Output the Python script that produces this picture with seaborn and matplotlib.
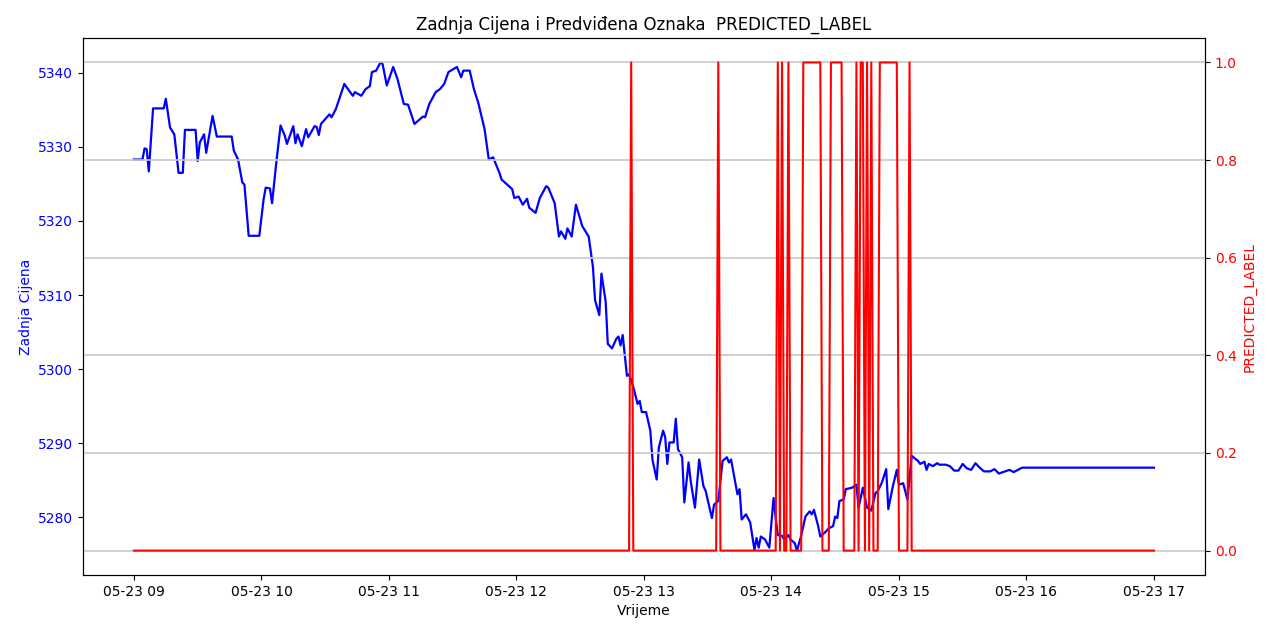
import matplotlib
matplotlib.use("Agg")
import matplotlib.pyplot as plt
import matplotlib.dates as mdates
import pandas as pd
import seaborn as sns

# ---- data ----
DAY = "2024-05-23"

price_minutes = [0, 4, 5, 6, 7, 9, 14, 15, 17, 19, 21, 23, 24, 29, 30, 31, 33, 34, 37, 39,
                 46, 47, 49, 51, 52, 54, 59, 61, 62, 64, 65, 67, 69, 71, 72, 75, 76, 77, 79, 81,
                 82, 85, 86, 87, 88, 92, 93, 95, 99, 103, 104, 107, 109, 111, 112, 114, 116, 117, 119, 122,
                 124, 127, 129, 132, 136, 137, 139, 142, 144, 146, 148, 152, 154, 155, 158, 160, 162, 165, 167, 169,
                 172, 173, 178, 179, 181, 183, 185, 186, 189, 191, 194, 195, 198, 200, 201, 203, 204, 206, 208, 211,
                 214, 216, 217, 219, 220, 222, 223, 225, 227, 228, 229, 230, 232, 233, 235, 237, 238, 239, 241, 243,
                 244, 246, 247, 249, 250, 251, 252, 254, 255, 256, 258, 259, 261, 262, 264, 266, 268, 269, 272, 273,
                 275, 277, 279, 280, 281, 283, 284, 285, 286, 288, 290, 292, 293, 294, 295, 297, 299, 301, 302, 303,
                 305, 306, 308, 309, 311, 312, 314, 316, 318, 319, 320, 322, 323, 325, 327, 329, 330, 331, 332, 334,
                 335, 338, 340, 341, 342, 343, 345, 347, 349, 350, 352, 354, 355, 357, 359, 360, 362, 364, 366, 369,
                 370, 372, 373, 374, 376, 378, 379, 382, 384, 386, 388, 390, 392, 394, 396, 398, 400, 403, 405, 407,
                 410, 412, 414, 416, 418, 480]

price_values = [5328.3, 5328.3, 5329.8, 5329.7, 5326.7, 5335.2, 5335.2, 5336.5, 5332.6, 5331.7,
                5326.5, 5326.5, 5332.3, 5332.3, 5328.1, 5330.6, 5331.7, 5329.2, 5334.2, 5331.4,
                5331.4, 5329.5, 5328.3, 5325.2, 5324.9, 5318.0, 5318.0, 5322.9, 5324.5, 5324.4,
                5322.4, 5327.9, 5332.9, 5331.5, 5330.4, 5332.8, 5330.5, 5331.7, 5330.1, 5332.4,
                5331.3, 5332.8, 5332.7, 5331.6, 5333.1, 5334.4, 5334.0, 5335.1, 5338.5, 5336.9,
                5337.4, 5336.9, 5337.8, 5338.2, 5340.1, 5340.3, 5341.4, 5341.2, 5338.3, 5340.8,
                5339.2, 5335.8, 5335.7, 5333.1, 5334.1, 5334.0, 5335.8, 5337.4, 5337.8, 5338.5,
                5340.1, 5340.8, 5339.4, 5340.3, 5340.3, 5337.8, 5336.0, 5332.4, 5328.3, 5328.6,
                5326.5, 5325.6, 5324.3, 5323.1, 5323.3, 5322.2, 5323.0, 5321.8, 5321.1, 5323.1,
                5324.7, 5324.5, 5322.4, 5317.9, 5318.6, 5317.6, 5319.0, 5317.9, 5322.2, 5319.3,
                5317.9, 5313.8, 5309.3, 5307.3, 5312.9, 5309.1, 5303.4, 5302.8, 5304.1, 5304.4,
                5303.2, 5304.6, 5299.1, 5299.3, 5297.6, 5295.3, 5295.7, 5294.2, 5294.2, 5291.7,
                5287.8, 5285.1, 5289.4, 5291.7, 5290.8, 5287.2, 5290.1, 5290.1, 5293.3, 5289.2,
                5288.1, 5282.0, 5287.4, 5284.9, 5281.3, 5287.8, 5284.2, 5283.6, 5279.9, 5281.7,
                5282.2, 5287.6, 5288.1, 5287.4, 5287.8, 5284.7, 5283.1, 5283.8, 5279.7, 5280.4,
                5279.3, 5275.6, 5277.2, 5275.9, 5277.4, 5277.0, 5275.9, 5282.6, 5279.9, 5277.6,
                5277.5, 5277.0, 5277.6, 5277.0, 5276.5, 5275.5, 5277.5, 5280.1, 5280.8, 5280.4,
                5281.0, 5278.8, 5277.4, 5277.9, 5278.5, 5278.8, 5280.1, 5279.9, 5282.2, 5282.4,
                5283.8, 5284.0, 5284.4, 5281.3, 5282.6, 5284.0, 5281.3, 5280.9, 5283.3, 5283.5,
                5284.7, 5286.5, 5281.1, 5284.0, 5286.4, 5284.4, 5284.6, 5282.4, 5288.3, 5287.6,
                5287.2, 5287.5, 5286.4, 5287.2, 5286.9, 5287.3, 5287.1, 5287.1, 5286.9, 5286.3,
                5286.3, 5287.2, 5286.6, 5286.4, 5287.3, 5286.7, 5286.2, 5286.2, 5286.5, 5285.9,
                5286.2, 5286.4, 5286.1, 5286.4, 5286.7, 5286.7]

label_times = ["09:00", "12:53", "12:54", "12:55", "13:34", "13:35", "13:36",
               "14:02", "14:03", "14:04", "14:05", "14:06", "14:07", "14:08", "14:09",
               "14:14", "14:15", "14:23", "14:24", "14:27", "14:28", "14:33", "14:34",
               "14:39", "14:40", "14:41", "14:42", "14:43", "14:44", "14:45", "14:46",
               "14:47", "14:48", "14:50", "14:51", "14:59", "15:00",
               "15:04", "15:05", "15:06", "17:00"]
label_values = [0, 0, 1, 0, 0, 1, 0,
                0, 1, 0, 1, 0, 0, 1, 0,
                0, 1, 1, 0, 0, 1, 1, 0,
                0, 1, 0, 1, 1, 0, 1, 0,
                1, 0, 0, 1, 1, 0,
                0, 1, 0, 0]

# ---- build frames ----
start = pd.Timestamp(f"{DAY} 09:00")
price_df = pd.DataFrame({
    "Vrijeme": [start + pd.Timedelta(minutes=m) for m in price_minutes],
    "Zadnja Cijena": price_values,
})
label_df = pd.DataFrame({
    "Vrijeme": pd.to_datetime([f"{DAY} {t}" for t in label_times]),
    "PREDICTED_LABEL": label_values,
})

fig, ax1 = plt.subplots(figsize=(12.76, 6.24), dpi=100)
fig.subplots_adjust(left=0.065, right=0.9443, top=0.939, bottom=0.0785)

sns.lineplot(data=price_df, x="Vrijeme", y="Zadnja Cijena", ax=ax1,
             color="blue", linewidth=1.6)
ax1.set_xlabel("Vrijeme")
ax1.set_ylabel("Zadnja Cijena", color="blue")
ax1.tick_params(axis="y", labelcolor="blue")

ax2 = ax1.twinx()
sns.lineplot(data=label_df, x="Vrijeme", y="PREDICTED_LABEL", ax=ax2,
             color="red", linewidth=1.5)
ax2.set_ylabel("PREDICTED_LABEL", color="red")
ax2.tick_params(axis="y", labelcolor="red")
ax2.grid(True, axis="y", color="#c8c8c8", linewidth=1.2)
ax2.set_yticks([0.0, 0.2, 0.4, 0.6, 0.8, 1.0])

ax1.xaxis.set_major_locator(mdates.HourLocator())
ax1.xaxis.set_major_formatter(mdates.DateFormatter("%m-%d %H"))

ax1.set_title("Zadnja Cijena i Predviđena Oznaka  PREDICTED_LABEL", fontsize=12)

fig.savefig("out.png", dpi=100)
